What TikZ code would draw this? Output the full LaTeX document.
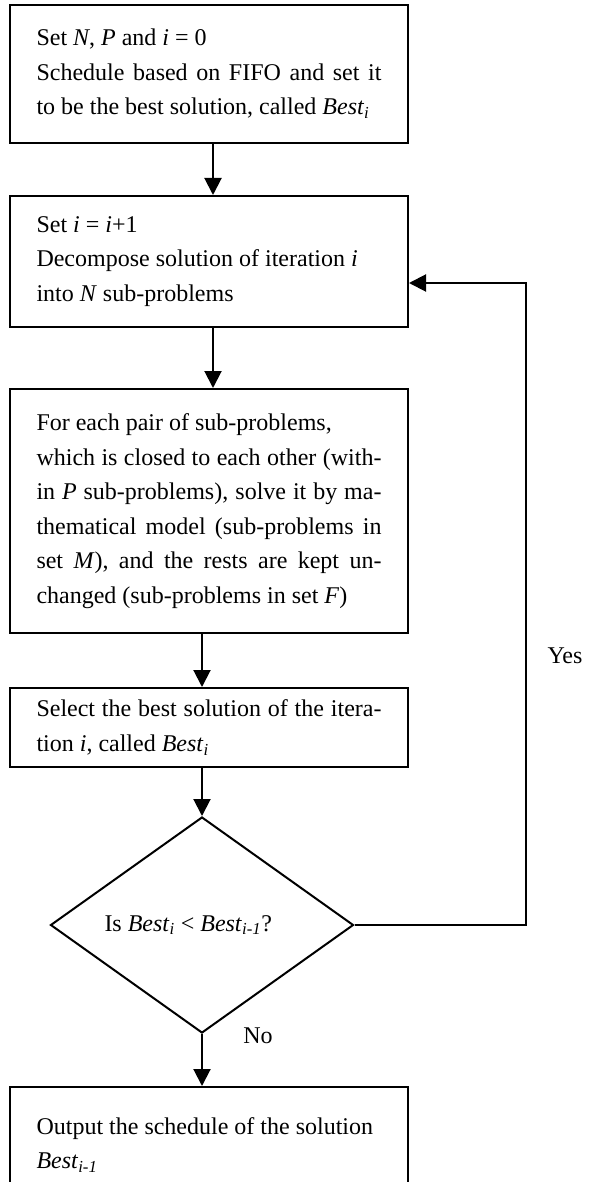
\documentclass[tikz,border=0pt]{standalone}
\usepackage{fontspec}
\setmainfont{Liberation Serif}
\usetikzlibrary{shapes.geometric,arrows.meta}

\begin{document}
\begin{tikzpicture}[x=1pt,y=1pt]
\tikzstyle{box} = [draw, rectangle, line width=2pt, minimum width=398pt, text width=345pt, align=justify, inner sep=0pt, font=\fontsize{24}{34.5}\selectfont]
\tikzstyle{decision} = [draw, diamond, line width=2pt, minimum width=303pt, minimum height=216pt, aspect=1.4, inner sep=0pt, text width=195pt, align=flush left, font=\fontsize{24}{34.5}\selectfont]
\tikzstyle{arrow} = [line width=2pt, -{Triangle[length=17pt,width=17pt]}]
\tikzstyle{tag} = [font=\fontsize{24}{34.5}\selectfont]
\useasboundingbox (0,0) rectangle (590,-1182);
% boxes of the loop, top to bottom
\node[box, minimum height=138pt] (init) at (209,-74)
  {Set \textit{N}, \textit{P} and \textit{i} = 0\\
   Schedule based on FIFO and set it\linebreak
   to be the best solution, called \textit{Best}\textsubscript{\textit{i}}};
\node[box, minimum height=131pt] (decomp) at (209,-261.5)
  {Set \textit{i} = \textit{i}+1\\
   Decompose solution of iteration \textit{i}\\
   into \textit{N} sub-problems};
\node[box, minimum height=244pt] (solve) at (209,-511)
  {For each pair of sub-problems,\\
   which is closed to each other (with-\linebreak
   in \textit{P} sub-problems), solve it by ma-\linebreak
   thematical model (sub-problems in\linebreak
   set \textit{M}), and the rests are kept un-\linebreak
   changed (sub-problems in set \textit{F})};
\node[box, minimum height=79pt] (select) at (209,-727.5)
  {Select the best solution of the itera-\linebreak
   tion \textit{i}, called \textit{Best}\textsubscript{\textit{i}}};
\node[decision] (test) at (202,-925)
  {Is \textit{Best}\textsubscript{\textit{i}} < \textit{Best}\textsubscript{\textit{i-1}}?};
\node[box, minimum height=116pt] (output) at (209,-1145)
  {Output the schedule of the solution\\
   \textit{Best}\textsubscript{\textit{i-1}}};
\coordinate (back) at (526,-283);
% straight arrows
\draw[arrow] ([xshift=4pt]init.south) -- ([xshift=4pt]decomp.north);
\draw[arrow] ([xshift=4pt]decomp.south) -- ([xshift=4pt]solve.north);
\draw[arrow] (solve.south -| test.north) -- (select.north -| test.north);
\draw[arrow] (select.south -| test.north) -- (test.north);
\draw[arrow] (test.south) -- (test.south |- output.north);
% loop back
\draw[arrow] (test.east) -| (back) -- (back -| decomp.east);
\node[tag] (yes) at (565,-656) {Yes};
\node[tag] (no) at (258,-1036) {No};
\end{tikzpicture}
\end{document}
